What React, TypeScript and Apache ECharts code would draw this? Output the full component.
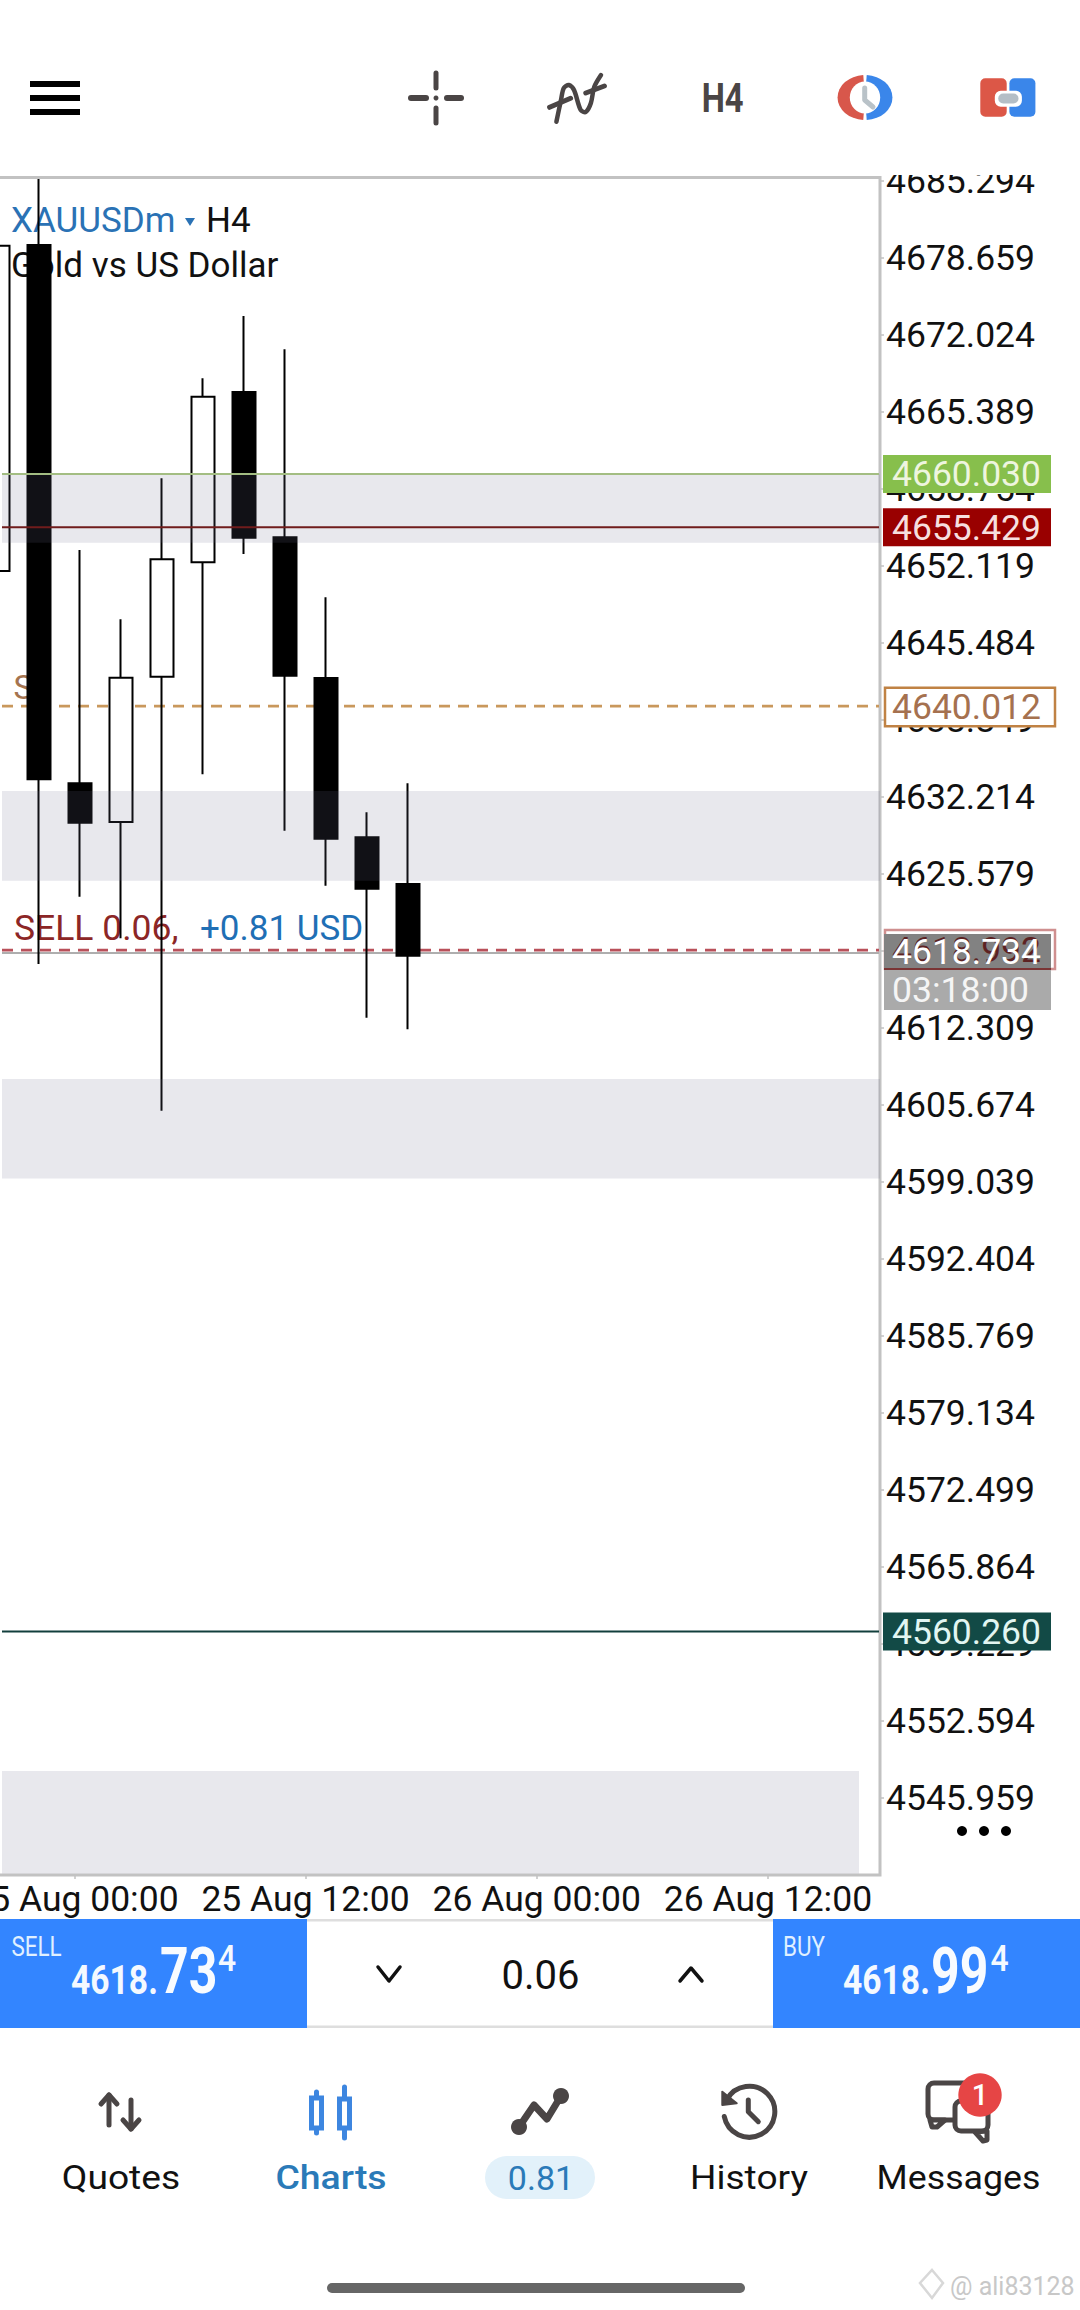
import React, { useEffect, useRef } from "react";
import * as echarts from "echarts";

const barSlots = Array.from({ length: 22 }, (_, i) => `bar${i}`);
// [open, close, low, high]
const candles = [
  [4651.66, 4679.7, 4650.9, 4680.4],
  [4679.76, 4633.71, 4617.79, 4685.45],
  [4633.37, 4629.97, 4623.59, 4653.47],
  [4630.03, 4642.47, 4620.01, 4647.5],
  [4642.56, 4652.67, 4605.15, 4659.65],
  [4652.42, 4666.69, 4634.14, 4668.27],
  [4667.09, 4654.54, 4653.13, 4673.64],
  [4654.57, 4642.64, 4629.28, 4670.77],
  [4642.44, 4628.59, 4624.54, 4649.4],
  [4628.71, 4624.28, 4613.17, 4630.87],
  [4624.69, 4618.51, 4612.17, 4633.37],
];
const yTicks = [
  4545.959, 4552.594, 4559.229, 4565.864, 4572.499, 4579.134, 4585.769, 4592.404, 4599.039, 4605.674, 4612.309,
  4618.944, 4625.579, 4632.214, 4638.849, 4645.484, 4652.119, 4658.754, 4665.389, 4672.024, 4678.659, 4685.294,
];
const xTickLabels = ["25 Aug 00:00", "25 Aug 12:00", "26 Aug 00:00", "26 Aug 12:00"];
const zoneHigh = [4660.0, 4632.7, 4607.88, 4548.24];
const zoneLow = [4654.1, 4624.97, 4599.3, 4539.4];
const zoneRightEdge = [880, 880, 880, 859];
const upperLevels = [4660.03, 4655.429, 4560.26];
const upperColors = ["#a3bd82", "#701c1c", "#123f3c"];
const lowerLevels = [4640.012, 4618.734, 4618.992];
const lowerColors = ["#c9985c", "#aeaeae", "#b9505a"];
const lowerDashes = [1, 0, 1];
const tagPrices = [4660.03, 4655.429, 4640.012, 4560.26];
const tagFills = ["#87bf4c", "#990000", "#ffffff", "#124a46"];
const tagStrokes = ["", "", "#c08244", ""];
const tagTexts = ["#eef5df", "#f6dfdf", "#a5714f", "#e2f6f2"];

const FONT = "Roboto, sans-serif";
const INK = "#4a4545";
const BLUE = "#3385ff";

const t = (text: string, x: number, y: number, size: number, fill: string, o: any = {}) => ({
  type: "text",
  x,
  y,
  scaleX: o.scaleX ?? 1,
  style: {
    text,
    x: 0,
    y: 0,
    fill,
    font: `${o.weight ?? 400} ${size}px ${FONT}`,
    textAlign: o.align ?? "left",
    textVerticalAlign: "middle",
    verticalAlign: "middle",
    opacity: o.opacity ?? 1,
  },
  silent: true,
});
const ln = (x1: number, y1: number, x2: number, y2: number, stroke: string, w: number) => ({
  type: "line",
  shape: { x1, y1, x2, y2 },
  style: { stroke, lineWidth: w, lineCap: "round" },
  silent: true,
});
const rc = (x: number, y: number, w: number, h: number, fill: string, r = 0, stroke?: string, lw = 0) => ({
  type: "rect",
  shape: { x, y, width: w, height: h, r },
  style: { fill, stroke: stroke ?? "none", lineWidth: lw },
  silent: true,
});
const poly = (points: number[][], stroke: string, w: number, smooth = 0) => ({
  type: "polyline",
  shape: { points, smooth },
  style: { stroke, lineWidth: w, fill: "none", lineCap: "round", lineJoin: "round" },
  silent: true,
});
const dot = (cx: number, cy: number, r: number, fill: string) => ({
  type: "circle",
  shape: { cx, cy, r },
  style: { fill },
  silent: true,
});

const underChart = [
  t("XAUUSDm", 11, 220, 35, "#2a72b5"),
  { type: "polygon", shape: { points: [[185, 218], [195, 218], [190, 226]] }, style: { fill: "#2a72b5" }, silent: true },
  t("H4", 206, 220, 35, "#111111"),
  t("Gold vs US Dollar", 11, 265, 35, "#111111"),
  t("SL", 13.5, 687, 33, "#a5744f"),
  t("SELL 0.06,", 14, 928, 35.5, "#8c2626"),
  t("+0.81 USD", 200, 928, 35, "#1f6fb5"),
];

const chrome = [
  // header
  rc(30, 81, 50, 6, "#000"),
  rc(30, 95, 50, 6, "#000"),
  rc(30, 109, 50, 6, "#000"),
  ln(436, 73, 436, 88, INK, 5),
  ln(436, 108, 436, 123, INK, 5),
  ln(411, 98, 426, 98, INK, 6),
  ln(447, 98, 461, 98, INK, 6),
  dot(436, 98, 2.5, INK),
  poly([[556.4, 121.7], [561, 100], [563.8, 88], [568.9, 85], [574, 90], [580.7, 110], [585.8, 112], [590.9, 103], [594.2, 87], [601, 75]], INK, 4.5, 0.3),
  ln(549.6, 107.3, 570.6, 98.3, INK, 5),
  ln(585.8, 93, 604.4, 86, INK, 5),
  t("H4", 722.7, 98, 41, INK, { align: "center", weight: 700, scaleX: 0.8 }),
  { type: "sector", x: 865, y: 97.5, scaleX: 1.22, shape: { cx: 0, cy: 0, r: 22.5, r0: 0, startAngle: Math.PI * 0.52, endAngle: Math.PI * 1.48 }, style: { fill: "#d8574b" }, silent: true },
  { type: "sector", x: 865, y: 97.5, scaleX: 1.22, shape: { cx: 0, cy: 0, r: 22.5, r0: 0, startAngle: -Math.PI * 0.48, endAngle: Math.PI * 0.48 }, style: { fill: "#3a86ea" }, silent: true },
  { type: "ellipse", shape: { cx: 865, cy: 97.5, rx: 15.2, ry: 16 }, style: { fill: "#ffffff" }, silent: true },
  poly([[864.7, 88], [864.7, 100], [873, 107]], "#b9c2c8", 5),
  rc(980.3, 78.3, 26.4, 38.4, "#dc5747", 5),
  rc(1009.4, 78.3, 26, 38.4, "#3a86ea", 5),
  rc(994.8, 90.7, 27.1, 16, "#ffffff", 6),
  rc(998.2, 93.5, 20.3, 10, "#b4bec6", 5),
  // top of the first price label is cut by the toolbar area
  { ...rc(884, 140, 196, 35, "#ffffff"), z: 30 },
  // price-axis overflow dots
  dot(962, 1831, 5, "#000"),
  dot(984, 1831, 5, "#000"),
  dot(1006, 1831, 5, "#000"),
  // trade panel
  rc(307, 1919, 466, 2.5, "#dedede"),
  rc(307, 2025.5, 466, 2.5, "#dedede"),
  rc(0, 1919, 307, 109, BLUE),
  rc(773, 1919, 307, 109, BLUE),
  t("SELL", 11.5, 1946, 28, "#e0f0ff", { scaleX: 0.8 }),
  t("4618.", 71, 1979.5, 41, "#f4f9ff", { scaleX: 0.82, weight: 700 }),
  t("73", 160, 1971, 64, "#f8fbff", { scaleX: 0.78, weight: 700 }),
  t("4", 218, 1958.5, 37.5, "#f4f9ff", { scaleX: 0.85, weight: 500 }),
  t("BUY", 783, 1946, 28, "#e0f0ff", { scaleX: 0.8 }),
  t("4618.", 843, 1979.5, 41, "#f4f9ff", { scaleX: 0.82, weight: 700 }),
  t("99", 931, 1971, 64, "#f8fbff", { scaleX: 0.78, weight: 700 }),
  t("4", 990.5, 1958.5, 37.5, "#f4f9ff", { scaleX: 0.85, weight: 500 }),
  poly([[378, 1967], [389, 1981], [400, 1967]], "#111", 3.5),
  poly([[680, 1981], [691, 1968], [702, 1981]], "#111", 3.5),
  t("0.06", 540.5, 1975, 40, "#111", { align: "center" }),
  // nav: quotes
  ln(109, 2095, 109, 2125, INK, 5),
  poly([[101, 2104], [109, 2095], [117, 2104]], INK, 5),
  ln(131, 2100, 131, 2129, INK, 5),
  poly([[123, 2120], [131, 2129], [139, 2120]], INK, 5),
  t("Quotes", 121, 2177.5, 34, "#111", { align: "center", scaleX: 1.095 }),
  // nav: charts
  ln(316.5, 2092, 316.5, 2133, "#3d86e0", 5),
  rc(311.5, 2098, 10, 30, "#ffffff", 0, "#3d86e0", 5),
  ln(344.5, 2087, 344.5, 2138, "#3d86e0", 5),
  rc(339.5, 2099, 10, 29, "#ffffff", 0, "#3d86e0", 5),
  t("Charts", 331, 2177.5, 34, "#2a7ab8", { align: "center", weight: 500, scaleX: 1.1 }),
  // nav: positions
  poly([[519, 2127], [534, 2105], [547, 2119], [561, 2096]], INK, 7),
  dot(519, 2127, 8, INK),
  dot(561, 2096, 8, INK),
  rc(485, 2156, 110, 43, "#e2f1fa", 21.5),
  t("0.81", 541, 2177.5, 34, "#2a7ab8", { align: "center" }),
  // nav: history
  { type: "arc", shape: { cx: 749.3, cy: 2111.7, r: 25.5, startAngle: 3.64, endAngle: 2.95, clockwise: true }, style: { stroke: INK, lineWidth: 5, fill: "none", lineCap: "round" }, silent: true },
  { type: "polygon", shape: { points: [[722.3, 2091.7], [722.3, 2105], [736.7, 2103.3]] }, style: { fill: INK, stroke: INK, lineWidth: 2, lineJoin: "round" }, silent: true },
  poly([[748.3, 2100], [748.3, 2111.7], [758.3, 2121.7]], INK, 5),
  t("History", 749, 2177.5, 34, "#111", { align: "center", scaleX: 1.09 }),
  // nav: messages
  rc(928, 2083, 44, 37, "#ffffff", 6, INK, 5),
  { type: "polygon", shape: { points: [[930, 2120], [932, 2127], [937, 2127], [945, 2120]] }, style: { fill: "#ffffff", stroke: INK, lineWidth: 5, lineJoin: "round" }, silent: true },
  rc(955, 2101, 33, 30, "#ffffff", 6, INK, 5),
  { type: "polygon", shape: { points: [[987, 2131], [987, 2140], [983, 2141], [975, 2132]] }, style: { fill: "#ffffff", stroke: INK, lineWidth: 5, lineJoin: "round" }, silent: true },
  dot(980, 2095, 21.7, "#e64545"),
  t("1", 980, 2095, 29, "#ffffff", { align: "center", weight: 500 }),
  t("Messages", 958.5, 2177.5, 34, "#111", { align: "center", scaleX: 1.05 }),
  // home bar and watermark
  rc(327, 2283, 418, 10, "#666666", 5),
  { type: "polygon", shape: { points: [[932, 2270], [943, 2283], [932, 2298], [920, 2283]] }, style: { fill: "none", stroke: "#d8d8d8", lineWidth: 2.5 }, silent: true },
  t("@ ali83128", 950, 2286, 25, "#c8c8c8"),
];

export default function App() {
  const ref = useRef<HTMLDivElement>(null);
  useEffect(() => {
    document.body.style.margin = "0";
    document.body.style.background = "#ffffff";
    const chart = echarts.init(ref.current!, null, { renderer: "svg" });
    const labelStyle = { color: "#111111", fontFamily: FONT };
    const tagFont = `400 35.5px ${FONT}`;
    chart.setOption({
      animation: false,
      backgroundColor: "#ffffff",
      graphic: { elements: [...underChart, ...chrome] },
      grid: [
        { left: -22.5, top: 177.5, width: 902.5, height: 1697.5, outerBoundsMode: "none", show: true, borderColor: "#c2c2c2", borderWidth: 3, backgroundColor: "transparent" },
        { left: 74.4, top: 177.5, width: 693.5, height: 1697.5, outerBoundsMode: "none" },
      ],
      xAxis: [
        { type: "category", gridIndex: 0, data: barSlots, axisLabel: { show: false }, axisTick: { show: false }, axisLine: { show: false }, splitLine: { show: false } },
        {
          type: "category",
          gridIndex: 1,
          data: xTickLabels,
          boundaryGap: false,
          axisLine: { show: false },
          axisTick: { show: true, length: 4, lineStyle: { color: "#c2c2c2", width: 1.5 } },
          axisLabel: { ...labelStyle, fontSize: 35.5, interval: 0, hideOverlap: false, margin: 6, showMinLabel: true, showMaxLabel: true },
          splitLine: { show: false },
        },
      ],
      yAxis: [
        {
          type: "value",
          gridIndex: 0,
          position: "right",
          min: 4539.28,
          max: 4685.58,
          scale: true,
          axisLine: { show: false },
          axisTick: { show: true, length: 4, customValues: yTicks, lineStyle: { color: "#c2c2c2", width: 1.5 } },
          axisLabel: { ...labelStyle, fontSize: 35.5, margin: 6, padding: [4, 0, 0, 0], customValues: yTicks, formatter: (v: number) => v.toFixed(3), hideOverlap: false },
          splitLine: { show: false },
        },
        { type: "value", gridIndex: 1, show: false, min: 0, max: 1, splitLine: { show: false } },
      ],
      series: [
        {
          type: "custom",
          xAxisIndex: 0,
          yAxisIndex: 0,
          z: 2,
          silent: true,
          clip: false,
          data: lowerLevels.map((v) => [0, v]),
          renderItem: (p: any, api: any) => {
            const y = api.coord([0, api.value(1)])[1];
            const dashed = lowerDashes[p.dataIndex];
            return {
              type: "line",
              shape: { x1: 2, y1: y, x2: 879, y2: y },
              style: { stroke: lowerColors[p.dataIndex], lineWidth: dashed ? 2.8 : 2, lineDash: dashed ? [11, 8] : undefined },
            };
          },
        },
        {
          type: "candlestick",
          xAxisIndex: 0,
          yAxisIndex: 0,
          z: 3,
          barWidth: 24,
          data: candles,
          clip: true,
          itemStyle: { color: "#ffffff", color0: "#000000", borderColor: "#000000", borderColor0: "#000000", borderWidth: 2 },
        },
        {
          type: "custom",
          xAxisIndex: 0,
          yAxisIndex: 0,
          z: 4,
          silent: true,
          clip: false,
          data: zoneHigh.map((h, i) => [0, h, zoneLow[i]]),
          renderItem: (p: any, api: any) => {
            const a = api.coord([0, api.value(1)])[1];
            const b = api.coord([0, api.value(2)])[1];
            const right = zoneRightEdge[p.dataIndex];
            return { type: "rect", shape: { x: 2, y: a, width: right - 2, height: b - a }, style: { fill: "rgba(108,108,142,0.157)" } };
          },
        },
        {
          type: "custom",
          xAxisIndex: 0,
          yAxisIndex: 0,
          z: 5,
          silent: true,
          clip: false,
          data: upperLevels.map((v) => [0, v]),
          renderItem: (p: any, api: any) => {
            const y = api.coord([0, api.value(1)])[1];
            return {
              type: "line",
              shape: { x1: 2, y1: y, x2: 879, y2: y },
              style: { stroke: upperColors[p.dataIndex], lineWidth: 2 },
            };
          },
        },
        {
          type: "custom",
          xAxisIndex: 0,
          yAxisIndex: 0,
          z: 12,
          silent: true,
          clip: false,
          data: tagPrices.map((v) => [0, v]),
          renderItem: (p: any, api: any) => {
            const i = p.dataIndex;
            const y = api.coord([0, api.value(1)])[1];
            const stroke = tagStrokes[i];
            return {
              type: "group",
              children: [
                {
                  type: "rect",
                  shape: stroke ? { x: 885, y: y - 18.5, width: 170, height: 38.5 } : { x: 883, y: y - 19, width: 168, height: 38 },
                  style: { fill: tagFills[i], stroke: stroke || "none", lineWidth: stroke ? 2.5 : 0 },
                },
                {
                  type: "text",
                  x: 892,
                  y: y + 0.5,
                  style: { text: tagPrices[i].toFixed(3), fill: tagTexts[i], font: tagFont, textVerticalAlign: "middle", verticalAlign: "middle" },
                },
              ],
            };
          },
        },
        {
          type: "custom",
          xAxisIndex: 0,
          yAxisIndex: 0,
          z: 13,
          silent: true,
          clip: false,
          data: [[0, 4618.992, 4618.734]],
          renderItem: (_p: any, api: any) => {
            const sellY = api.coord([0, api.value(1)])[1];
            const bidY = api.coord([0, api.value(2)])[1];
            return {
              type: "group",
              children: [
                { type: "rect", shape: { x: 885, y: sellY - 20, width: 170, height: 39 }, style: { fill: "#ffffff", stroke: "#cf8f8f", lineWidth: 2.5 } },
                { type: "rect", shape: { x: 884, y: bidY - 19, width: 167, height: 34 }, style: { fill: "#828282" } },
                { type: "text", x: 892, y: sellY, style: { text: "4618.992", fill: "#5d2222", font: tagFont, textVerticalAlign: "middle", verticalAlign: "middle" } },
                { type: "rect", shape: { x: 884, y: bidY + 15, width: 167, height: 2.5 }, style: { fill: "#7a3434" } },
                { type: "text", x: 892, y: bidY - 1, style: { text: "4618.734", fill: "#ffffff", font: tagFont, textVerticalAlign: "middle", verticalAlign: "middle" } },
                { type: "rect", shape: { x: 884, y: bidY + 17, width: 167, height: 40 }, style: { fill: "#aaaaaa" } },
                { type: "text", x: 892, y: bidY + 37, style: { text: "03:18:00", fill: "#f5f5f5", font: tagFont, textVerticalAlign: "middle", verticalAlign: "middle" } },
              ],
            };
          },
        },
      ],
    });
    return () => chart.dispose();
  }, []);
  return <div ref={ref} style={{ width: 1080, height: 2310, display: "block" }} />;
}
